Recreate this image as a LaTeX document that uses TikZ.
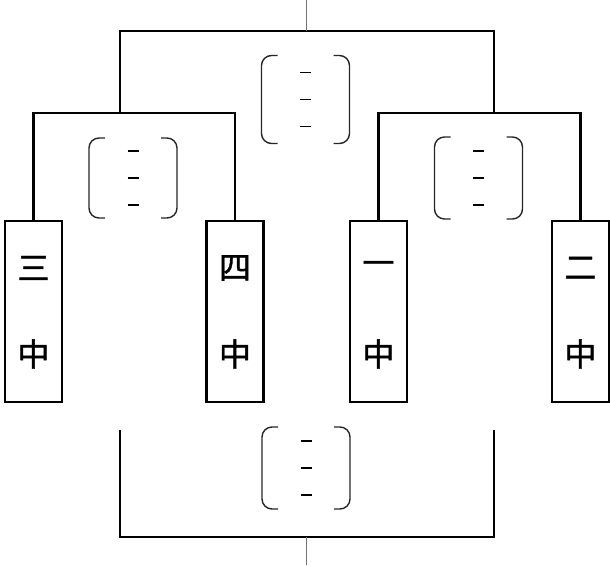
\documentclass[tikz,border=0pt]{standalone}
\usepackage{fontspec}
\newfontfamily\cjk[FakeBold=1.2]{Noto Sans CJK SC}
\begin{document}
\begin{tikzpicture}[x=1pt,y=-1pt,
  conn/.style={line width=2.6pt, line join=miter},
  tick/.style={line width=1pt, draw=black!55},
  team/.style={draw, line width=2.4pt, minimum width=57pt, minimum height=181pt, inner sep=0pt},
  char/.style={inner sep=0pt, font=\cjk\fontsize{32}{32}\selectfont},
  brk/.style={line width=1.4pt, draw=black!85, rounded corners=10pt},
  dsh/.style={line width=1.8pt},
  pics/blank/.style={code={
    \draw[brk] (-28,-#1) -| (-44,#1) -- (-28,#1);
    \draw[brk] (28,-#1) -| (44,#1) -- (28,#1);
    \draw[dsh] (-5.5,-27) -- (5.5,-27);
    \draw[dsh] (-5.5,0) -- (5.5,0);
    \draw[dsh] (-5.5,27) -- (5.5,27);
  }}]
\useasboundingbox (0,0) rectangle (610,565);
% teams
\node[team] (san) at (33.5,311.5) {};
\node[team] (si)  at (235,311.5) {};
\node[team] (yi)  at (378.5,311.5) {};
\node[team] (er)  at (580.5,311.5) {};
\node[char] (san1) at (33.5,268) {三};
\node[char] (san2) at (33.5,354) {中};
\node[char] (si1)  at (235,268) {四};
\node[char] (si2)  at (235,354) {中};
\node[char] (yi1)  at (378.5,268) {一};
\node[char] (yi2)  at (378.5,354) {中};
\node[char] (er1)  at (580.5,268) {二};
\node[char] (er2)  at (580.5,354) {中};
% junctions
\coordinate (lj) at (134,113);
\coordinate (rj) at (480,113);
\coordinate (tl) at (120,113);
\coordinate (tr) at (494,113);
\coordinate (tj) at (306,31);
\coordinate (ttop) at (306,0);
\coordinate (bl) at (120,430);
\coordinate (br) at (494,430);
\coordinate (bj) at (306,537);
\coordinate (bbot) at (306,565);
% connectors
\draw[conn] (san.north) |- (lj) -| (si.north);
\draw[conn] (yi.north) |- (rj) -| (er.north);
\draw[conn] (tl) |- (tj) -| (tr);
\draw[conn] (bl) |- (bj) -| (br);
\draw[tick] (tj) -- (ttop);
\draw[tick] (bj) -- (bbot);
% blanks
\pic at (305.5,99.5) {blank=44};
\pic at (133,178) {blank=40};
\pic at (478.5,178) {blank=41};
\pic at (306,468) {blank=41};
\end{tikzpicture}
\end{document}
